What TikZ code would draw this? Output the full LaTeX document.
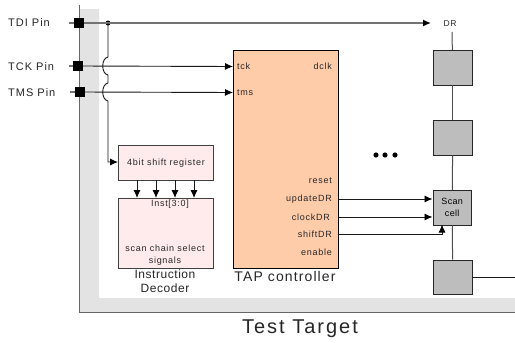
\documentclass[tikz,border=0pt]{standalone}
\usepackage{fontspec}
\setmainfont{Liberation Sans}
\usetikzlibrary{arrows.meta}
\newcommand{\lsfont}[3]{\fontsize{#1}{#2}\selectfont\addfontfeature{LetterSpace=#3}}
\definecolor{peach}{RGB}{255,204,170}
\definecolor{pinkfill}{RGB}{255,235,236}
\tikzset{
  x=1pt,y=-1pt,
  pinbox/.style={fill=black,draw=none,minimum width=10pt,minimum height=10pt,inner sep=0pt},
  pinlabel/.style={anchor=west,inner sep=0pt,font=\lsfont{11}{12}{9},text=black!85},
  cell/.style={draw=black!85,fill=black!26,line width=0.9pt,minimum width=38.5pt,minimum height=34.5pt,inner sep=0pt,anchor=north west,align=center,font=\lsfont{9}{12}{4}},
  pinkbox/.style={draw=black!75,fill=pinkfill,line width=1pt,inner sep=0pt,anchor=north west,align=center},
  sig/.style={inner sep=0pt,font=\lsfont{9}{12}{8},text=black!85},
  wire/.style={line width=0.9pt,draw=black!90},
  thickwire/.style={line width=1.4pt,draw=black!55},
  arr/.style={-{Latex[length=8pt,width=7pt,black]}},
  captext/.style={inner sep=0pt,align=center,text=black!85}
}
\begin{document}
\begin{tikzpicture}
\useasboundingbox (0,0) rectangle (515,343);
\fill[white] (0,0) rectangle (515,343);
% target frame
\fill[black!11] (80,9) -- (99,9) -- (99,298) -- (515,298) -- (515,312) -- (80,312) -- cycle;
\draw[line width=0.9pt,draw=black!60] (79,5) -- (79,312) -- (515,312);
% pins
\node[pinbox] (tdi) at (79,23) {};
\node[pinbox] (tckp) at (78,66) {};
\node[pinbox] (tmsp) at (80,92) {};
\node[pinlabel] at (8,23) {TDI Pin};
\node[pinlabel] at (8,67) {TCK Pin};
\node[pinlabel] at (8,93) {TMS Pin};
\coordinate (tdil) at (69,23);
\coordinate (tckl) at (69,66);
\coordinate (tmsl) at (70,92);
\draw[thickwire] (tdil) -- (tdi);
\draw[thickwire] (tckl) -- (tckp);
\draw[thickwire] (tmsl) -- (tmsp);
% TAP
\node[draw=black,fill=peach,line width=1pt,minimum width=105pt,minimum height=218pt,inner sep=0pt,anchor=north west] (tap) at (233,50) {};
\node[sig,anchor=west] (tck) at (237,66.5) {tck};
\node[sig,anchor=east] at (332,66.5) {dclk};
\node[sig,anchor=west] (tms) at (237,92.5) {tms};
\node[sig,anchor=east] at (332,181) {reset};
\node[sig,anchor=east] (upd) at (332,199) {updateDR};
\node[sig,anchor=east] (clk) at (330,217) {clockDR};
\node[sig,anchor=east] (shf) at (332,234) {shiftDR};
\node[sig,anchor=east] at (332,252) {enable};
\node[captext,font=\lsfont{14}{16}{8}] at (285,276) {TAP controller};
% decoder
\node[pinkbox,minimum width=95pt,minimum height=35pt,font=\lsfont{9}{12}{8},text=black!85] (sr) at (118,145) {4bit shift register};
\node[pinkbox,minimum width=95pt,minimum height=70pt] (dec) at (118,198) {};
\node[sig] at (170,204.5) {Inst[3:0]};
\node[sig,align=center,font=\lsfont{9}{12}{8}] at (165,255) {scan chain select\\signals};
\node[captext,font=\lsfont{12}{14}{4.5}] at (165,281) {Instruction\\Decoder};
\foreach \x/\n in {137/a,156/b,175/c,194/d}{
  \coordinate (s\n) at (\x,180);
  \coordinate (e\n) at (\x,198);
  \draw[wire,arr] (s\n) -- (e\n);
}
% TDI
\fill[black] (108,23) circle (2.5pt);
\node[inner sep=0pt,font=\lsfont{8.5}{10}{8},text=black!85] (dr) at (450,23.5) {DR};
\coordinate (drin) at (431,23);
\draw[thickwire,arr] (tdi) -- (drin);
\draw[wire,arr] (tckp) -- (tck.west -| tap.west);
\draw[wire,arr] (tmsp) -- (tms.west -| tap.west);
% vertical with bumps
\coordinate (srin) at (sr.west |- 0,162);
\draw[wire,arr] (108,23) -- (108,57)
  .. controls (101,58) and (101,74) .. (108,75)
  -- (108,83)
  .. controls (101,84) and (101,100) .. (108,101)
  -- (108,162) -- (srin);
% scan chain
\node[cell] (c1) at (433,50) {};
\node[cell] (c2) at (433,120) {};
\node[cell] (c3) at (432.5,190) {Scan\\cell};
\node[cell] (c4) at (433,259.5) {};
\coordinate (top) at (452,32);
\coordinate (out) at (515,277);
\draw[thickwire,line width=1pt,draw=black!70] (top) -- (c1);
\draw[thickwire,line width=1pt,draw=black!70] (c1) -- (c2);
\draw[thickwire,line width=1pt,draw=black!70] (c2) -- (c3);
\draw[thickwire,line width=1pt,draw=black!70] (c3) -- (c4);
\draw[wire] (c4.east |- out) -- (out);
% control arrows
\draw[wire,arr] (tap.east |- upd) -- (c3.west |- upd);
\draw[wire,arr] (tap.east |- clk) -- (c3.west |- clk);
\draw[wire,arr] (tap.east |- shf) -- (442,234) -- (442,224.5);
% dots
\foreach \x in {376,385,395}{\fill[black] (\x,155) circle (2.6pt);}
\node[captext,font=\lsfont{20}{22}{10}] at (300,329) {Test Target};
\end{tikzpicture}
\end{document}
